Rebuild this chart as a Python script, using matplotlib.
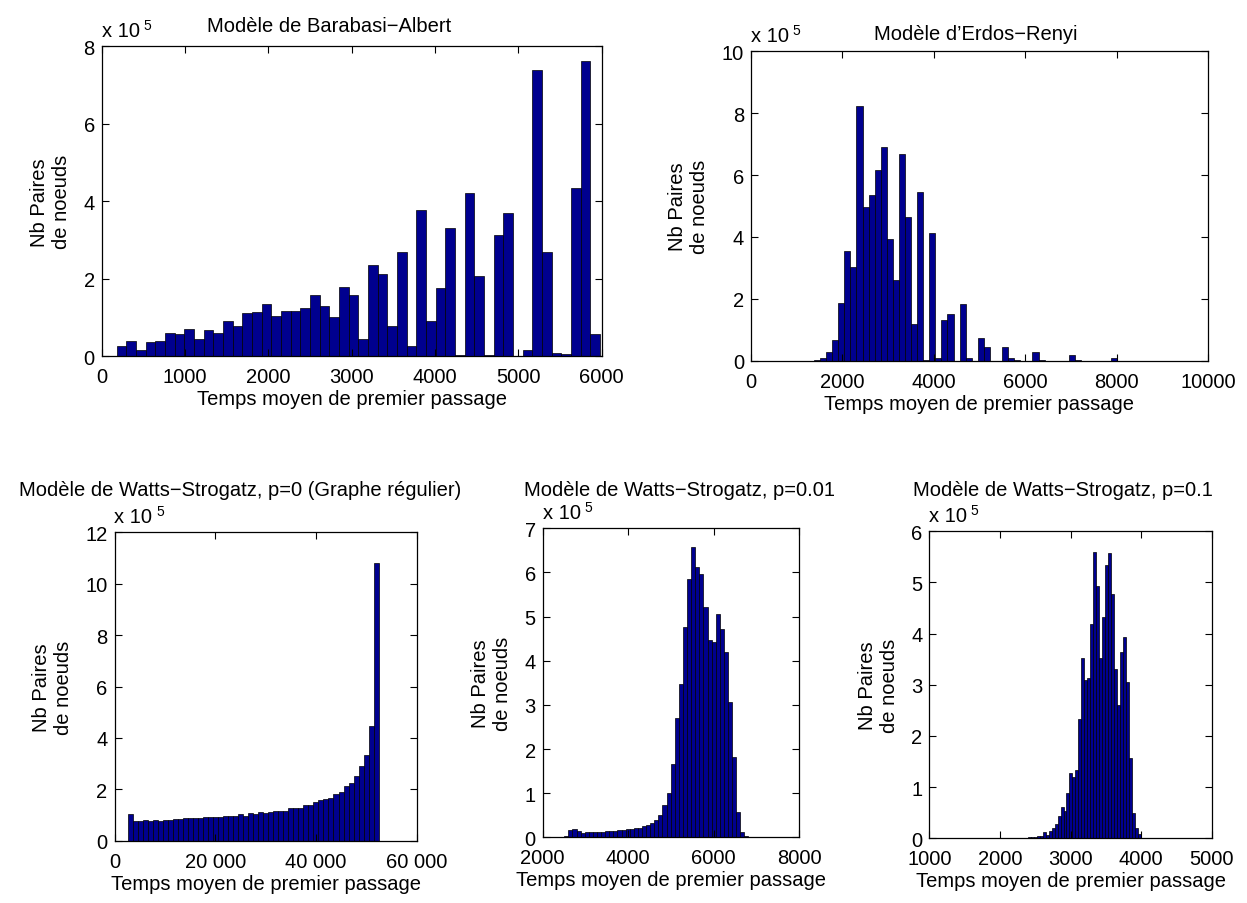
import matplotlib
matplotlib.use("Agg")
import matplotlib.pyplot as plt
import numpy as np

plt.rcParams['font.family'] = ['Liberation Sans', 'DejaVu Sans']

# ---------------- data (counts in units of 1e5) ----------------
ba_counts = [0.27, 0.39, 0.15, 0.37, 0.40, 0.59, 0.57, 0.70, 0.45, 0.67,
             0.59, 0.90, 0.77, 1.12, 1.14, 1.36, 1.05, 1.18, 1.18, 1.24,
             1.59, 1.30, 1.01, 1.80, 1.59, 0.45, 2.36, 2.13, 0.77, 2.70,
             0.26, 3.78, 0.90, 1.76, 3.32, 0.03, 4.22, 2.06, 0.03, 3.14,
             3.70, 0.02, 0.17, 7.39, 2.68, 0.08, 0.06, 4.34, 7.62, 0.58]
ba_range = (180, 5980)

er_counts = [0.02, 0.08, 0.28, 0.66, 1.88, 3.56, 3.03, 8.23, 4.98, 5.35,
             6.15, 6.91, 3.92, 2.60, 6.69, 4.63, 1.18, 5.46, 0.03, 4.12,
             0.08, 1.32, 1.51, 0.0, 1.82, 0.09, 0.0, 0.73, 0.45, 0.0,
             0.0, 0.43, 0.09, 0.01, 0.0, 0.0, 0.29, 0.03, 0.0, 0.0,
             0.0, 0.0, 0.18, 0.01, 0.0, 0.0, 0.0, 0.0, 0.0, 0.09]
er_range = (1378, 8018)

ws0_counts = [1.03, 0.78, 0.78, 0.82, 0.78, 0.82, 0.78, 0.82, 0.82, 0.86,
              0.84, 0.88, 0.88, 0.88, 0.88, 0.92, 0.92, 0.92, 0.92, 0.97,
              0.97, 0.97, 1.02, 0.98, 1.07, 1.03, 1.12, 1.07, 1.12, 1.17,
              1.17, 1.17, 1.27, 1.27, 1.27, 1.40, 1.40, 1.52, 1.57, 1.63,
              1.68, 1.80, 1.90, 2.12, 2.25, 2.53, 2.92, 3.35, 4.47, 10.8]
ws0_range = (2600, 52400)

ws001_counts = [0.01, 0.01, 0.01, 0.01, 0.01, 0.02, 0.17, 0.19, 0.14, 0.09,
                0.11, 0.11, 0.12, 0.12, 0.13, 0.14, 0.14, 0.15, 0.16, 0.17,
                0.18, 0.19, 0.20, 0.22, 0.25, 0.28, 0.33, 0.39, 0.51, 0.74,
                1.00, 1.66, 2.70, 3.48, 4.76, 5.85, 6.57, 6.13, 5.97, 5.22,
                4.47, 4.43, 5.05, 4.71, 4.19, 3.07, 1.81, 0.58, 0.11, 0.02]
ws001_range = (2026, 6816)

ws01_counts = [0.005, 0.005, 0.005, 0.01, 0.01, 0.01, 0.01, 0.01, 0.01, 0.01,
               0.01, 0.015, 0.02, 0.03, 0.03, 0.05, 0.05, 0.12, 0.07, 0.15,
               0.21, 0.27, 0.43, 0.62, 0.54, 0.88, 1.27, 1.19, 1.34, 2.33,
               3.53, 3.09, 3.13, 4.18, 5.60, 4.94, 3.53, 4.33, 5.34, 5.57,
               4.78, 3.30, 2.60, 3.65, 3.93, 3.06, 1.57, 0.50, 0.20, 0.08]
ws01_range = (1893, 3993)

titles = ["Modèle de Barabasi\u2212Albert",
          "Modèle d\u2019Erdos\u2212Renyi",
          "Modèle de Watts\u2212Strogatz, p=0 (Graphe régulier)",
          "Modèle de Watts\u2212Strogatz, p=0.01",
          "Modèle de Watts\u2212Strogatz, p=0.1"]
xlabel = "Temps moyen de premier passage"
ylabel = "Nb Paires\nde noeuds"

ba_xticks = [0, 1000, 2000, 3000, 4000, 5000, 6000]
er_xticks = [0, 2000, 4000, 6000, 8000, 10000]
ws0_xticks = [0, 20000, 40000, 60000]
ws0_xticklabels = ["0", "20 000", "40 000", "60 000"]
ws001_xticks = [2000, 4000, 6000, 8000]
ws01_xticks = [1000, 2000, 3000, 4000, 5000]

# ---------------- layout ----------------
W, H = 1247, 904
FS = 14.5
BAR = '#00008F'
fig = plt.figure(figsize=(W / 100, H / 100), dpi=100)


def make_axes(l, r, t, b):
    return fig.add_axes([l / W, 1 - b / H, (r - l) / W, (b - t) / H])


def panel(box, counts, rng, xlim, xticks, xticklabels, ylim, yticks,
          title, title_x, title_y, title_ha='center'):
    l, r, t, b = box
    ax = make_axes(l, r, t, b)
    edges = np.linspace(rng[0], rng[1], len(counts) + 1)
    ax.bar(edges[:-1], counts, width=np.diff(edges), align='edge',
           color=BAR, edgecolor='black', linewidth=0.5)
    ax.set_xlim(*xlim)
    ax.set_ylim(*ylim)
    ax.set_xticks(xticks)
    if xticklabels is not None:
        ax.set_xticklabels(xticklabels)
    ax.set_yticks(yticks)
    ax.tick_params(direction='in', top=True, right=True, length=5, width=0.8,
                   labelsize=FS)
    ax.tick_params(axis='x', pad=8)
    ax.tick_params(axis='y', pad=5)
    for s in ax.spines.values():
        s.set_linewidth(0.9)
    ax.set_xlabel(xlabel, fontsize=FS, labelpad=2)
    ax.set_ylabel(ylabel, fontsize=FS, labelpad=9, multialignment='center')
    fig.text(title_x / W, 1 - title_y / H, title, ha=title_ha, va='baseline',
             fontsize=FS)
    # exponent label (MATLAB style)
    fig.text(l / W, 1 - (t - 10.6) / H, "x 10", ha='left', va='baseline',
             fontsize=FS)
    fig.text((l + 41.5) / W, 1 - (t - 17.3) / H, "5", ha='left', va='baseline',
             fontsize=10)
    return ax


panel((101.7, 601.7, 47.3, 357.3), ba_counts, ba_range, (0, 6000), ba_xticks,
      None, (0, 8), [0, 2, 4, 6, 8], titles[0], 329, 31.7)
panel((751, 1208, 52.3, 361.7), er_counts, er_range, (0, 10000), er_xticks,
      None, (0, 10), [0, 2, 4, 6, 8, 10], titles[1], 976, 40)
panel((114.5, 417, 533.3, 841.7), ws0_counts, ws0_range, (0, 60000), ws0_xticks,
      ws0_xticklabels, (0, 12), [0, 2, 4, 6, 8, 10, 12], titles[2], 240, 496)
panel((542.7, 799, 529.3, 838.3), ws001_counts, ws001_range, (2000, 8000),
      ws001_xticks, None, (0, 7), [0, 1, 2, 3, 4, 5, 6, 7], titles[3], 680, 496)
panel((929.3, 1211.7, 532.3, 839.3), ws01_counts, ws01_range, (1000, 5000),
      ws01_xticks, None, (0, 6), [0, 1, 2, 3, 4, 5, 6], titles[4], 1063, 496)

fig.savefig("out.png", dpi=100)
